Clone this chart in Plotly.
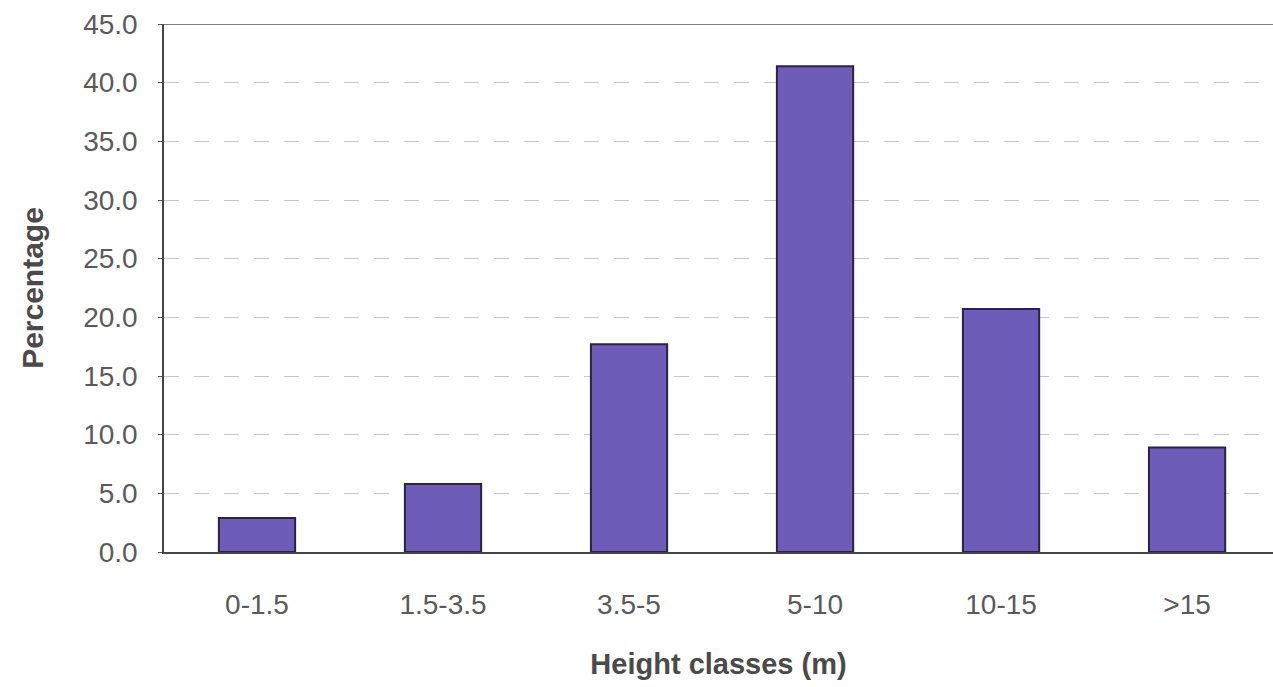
import plotly.graph_objects as go

# Height class distribution
height_classes = ["0-1.5", "1.5-3.5", "3.5-5", "5-10", "10-15", ">15"]
percentages = [2.9, 5.8, 17.7, 41.4, 20.7, 8.9]
y_ticks = [0, 5, 10, 15, 20, 25, 30, 35, 40, 45]

fig = go.Figure(
    go.Bar(
        x=height_classes,
        y=percentages,
        width=0.41,
        marker=dict(color="#6f5cb8", line=dict(color="#2b2340", width=2)),
    )
)

fig.update_layout(
    width=1273,
    height=687,
    margin=dict(l=164, r=0, t=24, b=135),
    paper_bgcolor="white",
    plot_bgcolor="white",
    showlegend=False,
    font=dict(family="Liberation Sans, Arial, sans-serif", color="#555555"),
)

fig.update_xaxes(
    range=[-0.5, 5.462],
    showline=True,
    linecolor="#444444",
    linewidth=1.5,
    ticks="",
    ticklabelstandoff=27,
    tickfont=dict(size=28, color="#5a5a5a"),
    title=dict(
        text="<b>Height classes (m)</b>",
        font=dict(size=29, color="#4a4a4a"),
        standoff=34,
    ),
)

fig.update_yaxes(
    range=[0, 45],
    tickvals=y_ticks,
    tickformat=".1f",
    showline=True,
    linecolor="#444444",
    linewidth=1.5,
    ticks="outside",
    ticklen=4,
    tickcolor="#555555",
    ticklabelstandoff=15,
    tickfont=dict(size=28, color="#5a5a5a"),
    showgrid=True,
    gridcolor="#c8c8c8",
    gridwidth=1,
    griddash="longdash",
    zeroline=False,
    title=dict(
        text="<b>Percentage</b>",
        font=dict(size=30, color="#4a4a4a"),
        standoff=31,
    ),
)

# Top frame line at the upper limit of the value axis
fig.add_shape(
    type="line", xref="paper", yref="y",
    x0=0, x1=1, y0=45, y1=45,
    line=dict(color="#555555", width=1.5),
)

fig.write_html("out.html")
